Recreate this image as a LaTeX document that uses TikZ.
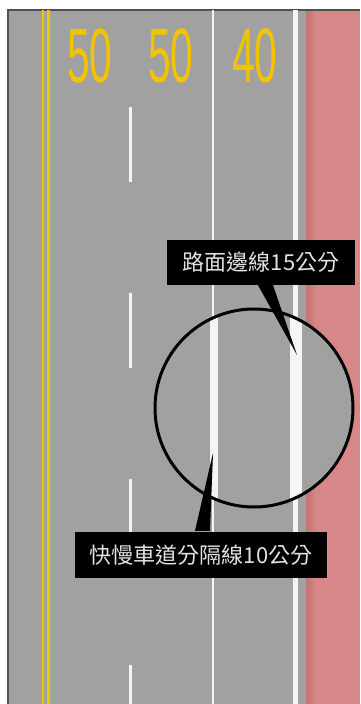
\documentclass[tikz,border=0pt]{standalone}
\usepackage{fontspec}
\newfontfamily\cjk{Noto Sans CJK TC}
\newfontfamily\numfont{Liberation Sans}
\definecolor{road}{HTML}{A1A1A1}
\definecolor{pinkarea}{HTML}{D78787}
\definecolor{pinkdark}{HTML}{BF7373}
\definecolor{ylw}{HTML}{F2C400}
\definecolor{mark}{HTML}{F4F4F4}
\definecolor{frame}{HTML}{505050}
\definecolor{labeltext}{HTML}{E2E2E2}
\tikzset{
  speednum/.style={text=ylw, font=\numfont\fontsize{77}{77}\selectfont, xscale=0.53, inner sep=0},
  calloutbox/.style={fill=black, inner sep=0, text=labeltext, font=\cjk\fontsize{22}{22}\selectfont},
  whiteline/.style={draw=mark},
  yellowline/.style={draw=ylw}
}
\begin{document}
\begin{tikzpicture}[x=1pt,y=-1pt]
\useasboundingbox (0,0) rectangle (360,704);
\fill[white] (0,0) rectangle (360,704);
% road and pink shoulder
\fill[road] (8,10) rectangle (306,704);
\fill[pinkarea] (306,10) rectangle (360,704);
\shade[left color=pinkdark, right color=pinkarea] (306,10) rectangle (316,704);
% frame
\draw[frame, line width=1.2] (8,704) -- (8,10) -- (360,10);
% yellow double line
\draw[yellowline, line width=2.2] (43,10) -- (43,704);
\draw[yellowline, line width=2.6] (48.5,10) -- (48.5,704);
% dashed lane line
\draw[whiteline, line width=3, dash pattern=on 75pt off 111pt] (130,107) -- (130,704);
% solid lines
\draw[whiteline, line width=2.8] (213,10) -- (213,704);
\draw[whiteline, line width=5] (295.5,10) -- (295.5,704);
% speed numbers
\node[speednum] (n1) at (90,55.5) {50};
\node[speednum] (n2) at (171,55.5) {50};
\node[speednum] (n3) at (255,55.5) {40};
% magnifier
\coordinate (mc) at (254,408);
\begin{scope}
  \clip (mc) circle[radius=99];
  \fill[road] (mc) circle[radius=99];
  \draw[whiteline, line width=8] (214,300) -- (214,520);
  \draw[whiteline, line width=12] (296,300) -- (296,520);
\end{scope}
\draw[black, line width=3] (mc) circle[radius=99];
% callouts
\node[calloutbox, minimum width=188pt, minimum height=45pt] (lab1) at (261,262.5) {路面邊線15公分};
\node[calloutbox, minimum width=252pt, minimum height=46pt] (lab2) at (201,555) {快慢車道分隔線10公分};
\coordinate (tip1) at (297,355);
\coordinate (tip2) at (213,453);
\fill[black] ([xshift=-1pt]lab1.south -| 259,0) -- (tip1) -- ([xshift=1pt]lab1.south -| 272,0) -- cycle;
\fill[black] ([yshift=1pt]lab2.north -| 195,0) -- (tip2) -- ([yshift=1pt]lab2.north -| 210,0) -- cycle;
\end{tikzpicture}
\end{document}
